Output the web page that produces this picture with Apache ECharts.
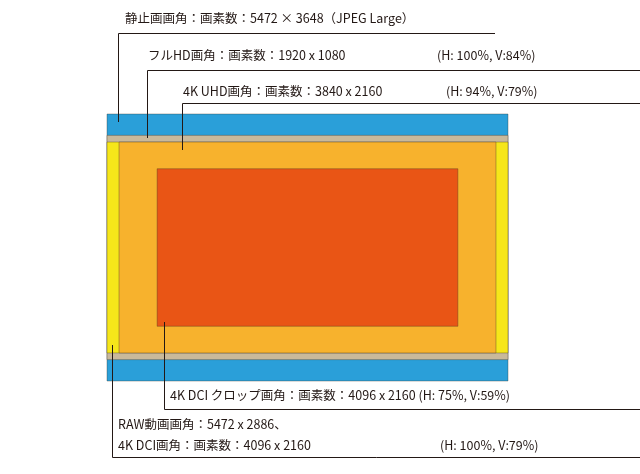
<!DOCTYPE html>
<html><head><meta charset="utf-8">
<script src="https://cdn.jsdelivr.net/npm/echarts@6/dist/echarts.min.js"></script>
<style>html,body{margin:0;background:#fff}#c{width:640px;height:474px}</style>
</head><body><div id="c"></div>
<script>
// frames: [name, width %, height %] of stills frame (5472 x 3648), centered
const frameNames = ['静止画', 'フルHD', 'RAW/4K DCI', '4K UHD', '4K DCIクロップ'];
const frameW = [100, 100, 100, 94, 75];
const frameH = [100, 84, 79, 79, 59];
const frameColors = ['#2a9fd9', '#c9b99b', '#f6e61a', '#f7b22d', '#e95515'];
const labels = [
  '静止画画角：画素数：5472 × 3648（JPEG Large）',
  'フルHD画角：画素数：1920 x 1080',
  '4K UHD画角：画素数：3840 x 2160',
  '4K DCI クロップ画角：画素数：4096 x 2160 (H: 75%, V:59%)',
  'RAW動画画角：5472 x 2886、',
  '4K DCI画角：画素数：4096 x 2160'
];
const ratioLabels = ['(H: 100%, V:84%)', '(H: 94%, V:79%)', '(H: 100%, V:79%)'];

const chart = echarts.init(document.getElementById('c'));
const font = '"Noto Sans CJK JP", "Noto Sans", sans-serif';
const T = (x, y, s) => ({type: 'text', left: x, top: y, style: {text: s, font: '12.5px ' + font, fill: '#231815'}});
const L = pts => ({type: 'polyline', shape: {points: pts}, style: {stroke: '#231815', lineWidth: 1, fill: null}, z: 10});
chart.setOption({
  animation: false,
  grid: {left: 107, right: 132, top: 114, bottom: 93},
  xAxis: {type: 'value', min: -50, max: 50, show: false},
  yAxis: {type: 'value', min: -50, max: 50, show: false},
  series: [{
    type: 'custom',
    data: frameNames.map((n, i) => [frameW[i], frameH[i], i]),
    renderItem: (p, api) => {
      const w = api.value(0), h = api.value(1), i = api.value(2);
      const a = api.coord([-w / 2, h / 2]), b = api.coord([w / 2, -h / 2]);
      return {type: 'rect', shape: {x: a[0], y: a[1], width: b[0] - a[0], height: b[1] - a[1]},
        style: {fill: frameColors[i], stroke: 'rgba(60,50,40,0.6)', lineWidth: 0.6}};
    }
  }],
  graphic: [
    T(125, 12, labels[0]), T(148, 49, labels[1]), T(437, 49, ratioLabels[0]),
    T(183, 85, labels[2]), T(446, 85, ratioLabels[1]),
    T(170, 389, labels[3]), T(118, 418, labels[4]), T(118, 439, labels[5]), T(440, 439, ratioLabels[2]),
    L([[118.5, 122], [118.5, 33.5], [495, 33.5]]),
    L([[147.5, 138], [147.5, 70.5], [640, 70.5]]),
    L([[182.5, 150], [182.5, 103.5], [640, 103.5]]),
    L([[164.5, 322], [164.5, 409.5], [640, 409.5]]),
    L([[112.5, 345], [112.5, 457.5], [640, 457.5]])
  ]
});
</script></body></html>
